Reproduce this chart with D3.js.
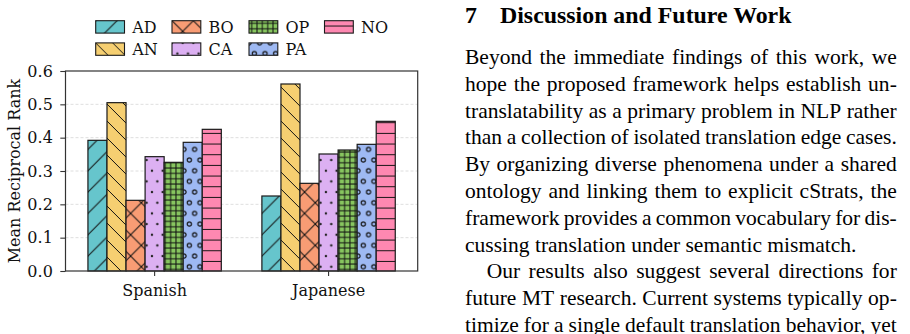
<!DOCTYPE html>
<html><head><meta charset="utf-8">
<script src="https://cdn.jsdelivr.net/npm/d3@7"></script>
<style>body{margin:0;background:#fff}svg{display:block}</style>
</head><body>
<svg id="c" width="910" height="334"></svg>
<script>
// ---------- data ----------
const groups = ["Spanish", "Japanese"];
const series = ["AD", "AN", "BO", "CA", "OP", "PA", "NO"];
const valuesSpanish  = [0.392, 0.505, 0.212, 0.343, 0.326, 0.386, 0.425];
const valuesJapanese = [0.225, 0.561, 0.263, 0.351, 0.363, 0.380, 0.449];
const colors  = ["#66C5CC", "#F6CF71", "#F89C74", "#DCB0F2", "#87C55F", "#9EB9F3", "#FE88B1"];
const hatches = ["/", "\\", "x", ".", "+", "o", "-"];
const yTicks = [0, 0.1, 0.2, 0.3, 0.4, 0.5, 0.6];
const yLabel = "Mean Reciprocal Rank";
const headingNum = "7";
const headingText = "Discussion and Future Work";
const bodyLines = [
  "Beyond the immediate findings of this work, we",
  "hope the proposed framework helps establish un-",
  "translatability as a primary problem in NLP rather",
  "than a collection of isolated translation edge cases.",
  "By organizing diverse phenomena under a shared",
  "ontology and linking them to explicit cStrats, the",
  "framework provides a common vocabulary for dis-",
  "cussing translation under semantic mismatch.",
  "Our results also suggest several directions for",
  "future MT research. Current systems typically op-",
  "timize for a single default translation behavior, yet"
];
const lineJustify = [1,1,1,1,1,1,1,0,1,1,1];
const lineIndent  = [0,0,0,0,0,0,0,0,1,0,0];

const table = groups.map((g, i) => ({group: g, values: (i === 0 ? valuesSpanish : valuesJapanese)}));

// ---------- setup ----------
const svg = d3.select("#c");
const defs = svg.append("defs");
const FONT = "DejaVu Serif";
const S = 10.67; // hatch unit

function pat(id, w, h, draw) {
  const p = defs.append("pattern").attr("id", id).attr("patternUnits", "userSpaceOnUse")
    .attr("width", w).attr("height", h);
  draw(p);
}
const hs = {stroke: "#111", "stroke-width": 1, fill: "none"};
function line(p, d) { const e = p.append("path").attr("d", d); Object.entries(hs).forEach(([k,v]) => e.attr(k, v)); }
const D = 2 * S;
const DAN = 17;
function ne(p, s) { [0, s, 2*s].forEach(c => line(p, `M${c - s - 2},${s + 2}L${c + 2},-2`)); }
function se(p, s) { [-s, 0, s].forEach(c => line(p, `M${c - 2},-2L${c + s + 2},${s + 2}`)); }
const patternDraw = {
  "/": () => pat("h0", D, D, p => ne(p, D)),
  "\\": () => pat("h1", DAN, DAN, p => se(p, DAN)),
  "x": () => pat("h2", D, D, p => { ne(p, D); se(p, D); }),
  ".": () => pat("h3", S, 2*S, p => {
    [[0,0],[S,0],[0,2*S],[S,2*S],[S/2,S]].forEach(([x,y]) => p.append("circle").attr("cx", x).attr("cy", y).attr("r", 1.2).attr("fill", "#222"));
  }),
  "+": () => pat("h4", S/2, S/2, p => { line(p, `M0,${S/4}H${S/2}`); line(p, `M${S/4},0V${S/2}`); }),
  "o": () => pat("h5", S, 2*S, p => {
    [[0,0],[S,0],[0,2*S],[S,2*S],[S/2,S]].forEach(([x,y]) => p.append("circle").attr("cx", x).attr("cy", y).attr("r", 2.1).attr("fill", "none").attr("stroke", "#111").attr("stroke-width", 1.2));
  }),
  "-": () => pat("h6", 10, S, p => line(p, `M0,${S/2}H10`))
};
hatches.forEach(h => patternDraw[h]());

// ---------- scales ----------
const plot = {left: 65.5, right: 417.7, top: 71, bottom: 271};
const x0 = d3.scaleBand().domain(groups).range([plot.left, plot.right]).paddingInner(0.2333).paddingOuter(0.129);
const x1 = d3.scaleBand().domain(series).range([0, x0.bandwidth()]);
const y = d3.scaleLinear().domain([0, 0.6]).range([plot.bottom, plot.top]);

// grid
svg.append("g").selectAll("line").data(yTicks.filter(t => t > 0 && t < 0.6)).join("line")
  .attr("x1", plot.left).attr("x2", plot.right).attr("y1", d => y(d)).attr("y2", d => y(d))
  .attr("stroke", "#d6d6d6").attr("stroke-width", 0.8).attr("stroke-dasharray", "3,2");

// bars
const gg = svg.append("g").selectAll("g").data(table).join("g")
  .attr("transform", d => `translate(${x0(d.group)},0)`);
const bars = gg.selectAll("g").data(d => d.values.map((v, i) => ({s: series[i], v, i}))).join("g");
bars.append("rect").attr("x", d => x1(d.s)).attr("width", x1.bandwidth())
  .attr("y", d => y(d.v)).attr("height", d => y(0) - y(d.v)).attr("fill", d => colors[d.i]);
bars.append("rect").attr("x", d => x1(d.s)).attr("width", x1.bandwidth())
  .attr("y", d => y(d.v)).attr("height", d => y(0) - y(d.v)).attr("fill", d => `url(#h${d.i})`)
  .attr("stroke", "#1a1a1a").attr("stroke-width", 1.2);

// frame
svg.append("rect").attr("x", plot.left).attr("y", plot.top).attr("width", plot.right - plot.left)
  .attr("height", plot.bottom - plot.top).attr("fill", "none").attr("stroke", "#333").attr("stroke-width", 1.2);

// axes
const yAxis = svg.append("g").attr("transform", `translate(${plot.left},0)`)
  .call(d3.axisLeft(y).tickValues(yTicks).tickFormat(d3.format(".1f")).tickSize(5.2).tickPadding(7.5));
const xAxis = svg.append("g").attr("transform", `translate(0,${plot.bottom})`)
  .call(d3.axisBottom(x0).tickSize(5).tickPadding(9));
[yAxis, xAxis].forEach(a => {
  a.select(".domain").remove();
  a.selectAll("line").attr("stroke", "#333").attr("stroke-width", 1.1);
  a.selectAll("text").attr("font-family", FONT).attr("font-size", 16).attr("fill", "#111");
});
svg.append("text").attr("transform", `translate(14.5,${(plot.top + plot.bottom) / 2}) rotate(-90)`)
  .attr("text-anchor", "middle").attr("dominant-baseline", "central")
  .attr("font-family", FONT).attr("font-size", 16).attr("fill", "#111").text(yLabel);

// legend (ncol=4, column-major)
const legX = [95.7, 172, 249, 324.5], legY = [20.7, 42.9];
const leg = svg.append("g").selectAll("g").data(series).join("g")
  .attr("transform", (d, i) => `translate(${legX[Math.floor(i / 2)]},${legY[i % 2]})`);
leg.append("rect").attr("width", 28.8).attr("height", 12.4).attr("fill", (d, i) => colors[i]);
leg.append("rect").attr("width", 28.8).attr("height", 12.4).attr("fill", (d, i) => `url(#h${i})`)
  .attr("stroke", "#1a1a1a").attr("stroke-width", 1.1);
leg.append("text").attr("x", 36.5).attr("y", 6.5).attr("dominant-baseline", "central")
  .attr("font-family", FONT).attr("font-size", 16).attr("fill", "#111").text(d => d);

// ---------- right-hand text ----------
const TF = "Liberation Serif";
const tx = 465, tRight = 896.8, indent = 21.7;

// heading: fit "Discussion and Future Work" to span 500 -> 791.7
const hd = svg.append("g").attr("font-family", TF).attr("font-weight", "bold").attr("font-size", 100).attr("fill", "#000");
const hText = hd.append("text").attr("x", 500).attr("y", 23).text(headingText);
const hSize = 100 * (791.7 - 500) / hText.node().getComputedTextLength();
hd.attr("font-size", hSize);
hd.append("text").attr("x", tx).attr("y", 23).text(headingNum);

// body: fit the unjustified line to its reference width (465 -> 856.7)
const body = svg.append("g").attr("font-family", TF).attr("font-size", 100).attr("fill", "#000");
const measure = body.append("text").attr("x", -1000).attr("y", -1000);
function w(s) { measure.text(s); return measure.node().getComputedTextLength(); }
const bSize = 100 * (856.7 - 465) / w(bodyLines[7]);
body.attr("font-size", bSize);
bodyLines.forEach((ln, i) => {
  const yy = 64 + i * 26.8;
  const x = tx + (lineIndent[i] ? indent : 0);
  if (!lineJustify[i]) { body.append("text").attr("x", x).attr("y", yy).text(ln); return; }
  const words = ln.split(" ");
  const ws = words.map(w);
  const total = d3.sum(ws);
  const gap = (tRight - x - total) / (words.length - 1);
  let cx = x;
  words.forEach((wd, j) => { body.append("text").attr("x", cx).attr("y", yy).text(wd); cx += ws[j] + gap; });
});
measure.remove();
</script>
</body></html>
